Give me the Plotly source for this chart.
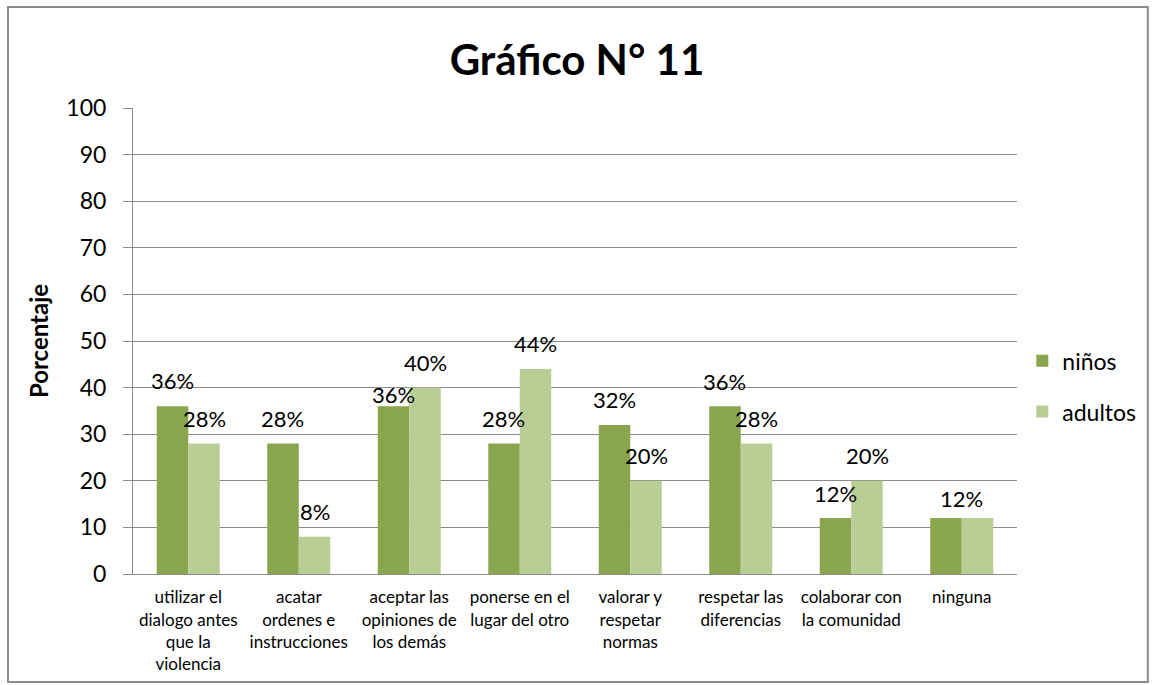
import plotly.graph_objects as go

categories = [
    "utilizar el<br>dialogo antes<br>que la<br>violencia",
    "acatar<br>ordenes e<br>instrucciones",
    "aceptar las<br>opiniones de<br>los demás",
    "ponerse en el<br>lugar del otro",
    "valorar y<br>respetar<br>normas",
    "respetar las<br>diferencias",
    "colaborar con<br>la comunidad",
    "ninguna",
]
ninos = [36, 28, 36, 28, 32, 36, 12, 12]
adultos = [28, 8, 40, 44, 20, 28, 20, 12]
ninos_labels = ["36%", "28%", "36%", "28%", "32%", "36%", "12%", "12%"]
adultos_labels = ["28%", "8%", "40%", "44%", "20%", "28%", "20%", ""]
y_ticks = [0, 10, 20, 30, 40, 50, 60, 70, 80, 90, 100]

C_NINOS = "#89A54E"
C_ADULTOS = "#B9CE95"
FONT = "Lato"

fig = go.Figure()
fig.add_trace(go.Bar(name="niños", legendgroup="n", x=list(range(len(categories))), y=ninos,
                     marker=dict(color=C_NINOS, line=dict(width=0))))
fig.add_trace(go.Bar(name="adultos", legendgroup="a", x=list(range(len(categories))), y=adultos,
                     marker=dict(color=C_ADULTOS, line=dict(width=0))))

# data label offsets (style only)
n_yshift = [26, 25, 12, 25, 25, 25, 25, 20]
n_xshift = [0, 0, 0, 0, 0, 0, 0, 16]
a_yshift = [25] * 8
bar_off = 0.145
annots = []
for i, (v, t) in enumerate(zip(ninos, ninos_labels)):
    if t:
        annots.append(dict(x=i - bar_off, y=v, xref="x", yref="y", text=t, showarrow=False,
                           yshift=n_yshift[i], xshift=n_xshift[i], yanchor="middle",
                           font=dict(family=FONT, size=22, color="#000")))
for i, (v, t) in enumerate(zip(adultos, adultos_labels)):
    if t:
        annots.append(dict(x=i + bar_off, y=v, xref="x", yref="y", text=t, showarrow=False,
                           yshift=a_yshift[i], yanchor="middle",
                           font=dict(family=FONT, size=22, color="#000")))

fig.update_layout(
    width=1154, height=685,
    margin=dict(l=133, r=137, t=108, b=111),
    paper_bgcolor="white", plot_bgcolor="white",
    barmode="group", bargap=0.43, bargroupgap=0,
    font=dict(family=FONT, color="#000"),
    title=dict(text="<b>Gráfico N° 11</b>", x=0.5, xanchor="center", y=1 - 60 / 685,
               yanchor="middle", font=dict(family=FONT, size=42, color="#000")),
    showlegend=True,
    legend=dict(x=1.006, y=0.403, xanchor="left", yanchor="middle",
                font=dict(family=FONT, size=23, color="#000"),
                itemsizing="constant", tracegroupgap=18, bgcolor="rgba(0,0,0,0)"),
    annotations=annots,
    shapes=[dict(type="rect", xref="paper", yref="paper",
                 x0=-0.1414, x1=1.148, y0=-0.2318, y1=1.2167,
                 line=dict(color="#8c8c8c", width=2), layer="below")],
)
fig.update_xaxes(
    tickmode="array", tickvals=list(range(len(categories))), ticktext=categories,
    range=[-0.5, len(categories) - 0.5],
    showline=True, linecolor="#8c8c8c", linewidth=1, ticks="", showgrid=False,
    tickfont=dict(family=FONT, size=17, color="#000"), ticklabelstandoff=8,
)
fig.update_yaxes(
    range=[0, 100], tickvals=y_ticks, showgrid=True, gridcolor="#8c8c8c", gridwidth=1,
    showline=True, linecolor="#8c8c8c", linewidth=1, ticks="outside", ticklen=9,
    tickcolor="#8c8c8c", tickfont=dict(family=FONT, size=23, color="#000"),
    ticklabelstandoff=12, zeroline=False,
    title=dict(text="<b>Porcentaje</b>", font=dict(family=FONT, size=24, color="#000"), standoff=10),
)
fig.write_html("out.html", config={"displayModeBar": False},
               post_script="document.body.style.margin='0';")
